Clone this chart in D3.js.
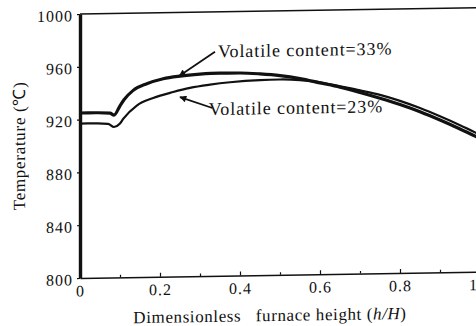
<!DOCTYPE html>
<html>
<head>
<meta charset="utf-8">
<script src="https://cdn.jsdelivr.net/npm/d3@7"></script>
<style>
  html, body { margin: 0; padding: 0; background: #fff; }
  svg { display: block; }
  text { font-family: "Liberation Serif", "Times New Roman", serif; }
</style>
</head>
<body>
<svg id="chart" width="476" height="326"></svg>
<script>
// Dimensionless furnace height h/H
const heights33 = [0, 0.04, 0.075, 0.085, 0.1, 0.11, 0.133, 0.167, 0.208, 0.25, 0.3, 0.35, 0.4, 0.45, 0.5, 0.55, 0.6, 0.65, 0.7, 0.75, 0.8, 0.85, 0.9, 0.95, 1.0];
// Temperature (°C), volatile content 33%
const temps33 = [925, 925, 924.5, 923, 930, 934.5, 941.5, 946.4, 950, 951.8, 953, 953.5, 953.4, 952.5, 951, 948.5, 945, 941.5, 937.2, 932.6, 927.6, 921.9, 915.4, 908.4, 900.9];

const heights23 = [0, 0.04, 0.07, 0.085, 0.1, 0.108, 0.142, 0.183, 0.233, 0.275, 0.325, 0.375, 0.45, 0.5, 0.55, 0.6, 0.65, 0.7, 0.75, 0.8, 0.85, 0.9, 0.95, 1.0];
// Temperature (°C), volatile content 23%
const temps23 = [917, 917, 916.5, 914, 916.5, 920, 930, 935.5, 939.8, 942.7, 944.9, 946.5, 947.8, 948, 947.3, 945.4, 942.1, 938.8, 935.2, 930.4, 924.7, 918.2, 911.2, 903.7];

const xMajorTicks = [0, 0.2, 0.4, 0.6, 0.8, 1.0];
const xMinorTicks = [0.1, 0.3, 0.5, 0.7, 0.9];
const yTicks = [800, 840, 880, 920, 960, 1000];

// Curve annotations: label text position, arrow tail and arrow tip, in data units
const annoLabels = ["Volatile content=33%", "Volatile content=23%"];
const annoTextH = [0.345, 0.322];
const annoTextT = [965.5, 921.9];
const annoTailH = [0.3375, 0.331];
const annoTailT = [969.8, 927.2];
const annoTipH = [0.248, 0.25];
const annoTipT = [951.8, 935.9];

const ink = "#111";
const width = 400, height = 264;
const svg = d3.select("#chart");

svg.append("defs").append("marker")
  .attr("id", "arrowhead")
  .attr("viewBox", "0 0 10 10")
  .attr("refX", 9).attr("refY", 5)
  .attr("markerWidth", 10).attr("markerHeight", 7)
  .attr("markerUnits", "userSpaceOnUse")
  .attr("orient", "auto")
  .append("path").attr("d", "M0,0 L10,5 L0,10 Z").attr("fill", ink);

const g = svg.append("g").attr("transform", "translate(80,14) skewY(-0.9)");

const x = d3.scaleLinear().domain([0, 1]).range([0, width]);
const y = d3.scaleLinear().domain([800, 1000]).range([height, 0]);

// frame: top and right borders
g.append("line").attr("x1", 0).attr("x2", width).attr("y1", 0).attr("y2", 0)
  .attr("stroke", ink).attr("stroke-width", 1.6);
g.append("line").attr("x1", width).attr("x2", width).attr("y1", 0).attr("y2", height)
  .attr("stroke", ink).attr("stroke-width", 1.6);

// bottom axis, ticks pointing inward
const xAxis = g.append("g").attr("transform", `translate(0,${height})`)
  .call(d3.axisBottom(x).tickValues(xMajorTicks)
    .tickFormat(d => d === 0 ? "0" : d3.format(".1f")(d))
    .tickSizeInner(-4).tickSizeOuter(0).tickPadding(7));
xAxis.select(".domain").attr("stroke", ink).attr("stroke-width", 1.6);
xAxis.selectAll(".tick line").attr("stroke", ink).attr("stroke-width", 1.2);
xAxis.selectAll("text").attr("font-size", 16).attr("letter-spacing", 1).attr("fill", ink);

const xMinor = g.append("g").attr("transform", `translate(0,${height})`)
  .call(d3.axisBottom(x).tickValues(xMinorTicks).tickFormat("")
    .tickSizeInner(-2.5).tickSizeOuter(0));
xMinor.select(".domain").remove();
xMinor.selectAll(".tick line").attr("stroke", ink).attr("stroke-width", 1.2);

// left axis, thick spine with outward ticks
const yAxis = g.append("g")
  .call(d3.axisLeft(y).tickValues(yTicks).tickFormat(d3.format("d"))
    .tickSizeInner(3).tickSizeOuter(0).tickPadding(4));
yAxis.select(".domain").attr("stroke", ink).attr("stroke-width", 3.4);
yAxis.selectAll(".tick line").attr("stroke", ink).attr("stroke-width", 1.2);
yAxis.selectAll("text").attr("font-size", 16).attr("letter-spacing", 1).attr("fill", ink).attr("dy", "0.42em");

// axis titles
g.append("text")
  .attr("transform", `translate(-55,${height / 2 - 1}) rotate(-90)`)
  .attr("text-anchor", "middle")
  .attr("font-size", 17)
  .attr("letter-spacing", 0.7)
  .attr("fill", ink)
  .text("Temperature (℃)");

const xTitle = g.append("text")
  .attr("x", 190).attr("y", height + 46)
  .attr("text-anchor", "middle")
  .attr("font-size", 17)
  .attr("letter-spacing", 0.6)
  .attr("fill", ink);
xTitle.append("tspan").text("Dimensionless\u00a0\u00a0 furnace height (");
xTitle.append("tspan").attr("font-style", "italic").text("h/H");
xTitle.append("tspan").text(")");

// temperature curves
const line = d3.line().curve(d3.curveMonotoneX)
  .x(d => x(d[0])).y(d => y(d[1]));

g.append("path")
  .datum(d3.zip(heights23, temps23))
  .attr("d", line)
  .attr("fill", "none").attr("stroke", ink).attr("stroke-width", 2.2)
  .attr("stroke-linejoin", "round");

g.append("path")
  .datum(d3.zip(heights33, temps33))
  .attr("d", line)
  .attr("fill", "none").attr("stroke", ink).attr("stroke-width", 3.2)
  .attr("stroke-linejoin", "round");

// annotations with arrows
annoLabels.forEach((label, i) => {
  g.append("line")
    .attr("x1", x(annoTailH[i])).attr("y1", y(annoTailT[i]))
    .attr("x2", x(annoTipH[i])).attr("y2", y(annoTipT[i]))
    .attr("stroke", ink).attr("stroke-width", 1.8)
    .attr("marker-end", "url(#arrowhead)");
  g.append("text")
    .attr("x", x(annoTextH[i])).attr("y", y(annoTextT[i]))
    .attr("font-size", 18)
    .attr("letter-spacing", 0.9)
    .attr("fill", ink)
    .text(label);
});
</script>
</body>
</html>
